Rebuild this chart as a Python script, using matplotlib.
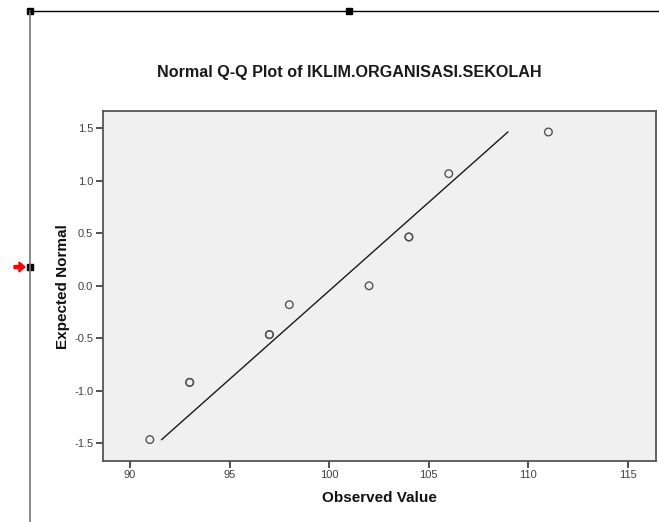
import matplotlib
matplotlib.use("Agg")
import matplotlib.pyplot as plt
from matplotlib.lines import Line2D
from matplotlib.patches import Rectangle, FancyArrow
import numpy as np

# Data (duplicates listed twice)
observed = [91, 93, 93, 97, 97, 98, 102, 104, 104, 106, 111]
expected = [-1.465, -0.92, -0.92, -0.465, -0.465, -0.18, 0.0, 0.465, 0.465, 1.068, 1.465]
line_mean = 100.28
line_sd = 5.93
xticks = [90, 95, 100, 105, 110, 115]
yticks = [-1.5, -1.0, -0.5, 0.0, 0.5, 1.0, 1.5]
title = "Normal Q-Q Plot of IKLIM.ORGANISASI.SEKOLAH"
xlabel = "Observed Value"
ylabel = "Expected Normal"

W, H = 659, 522
fig = plt.figure(figsize=(W / 100, H / 100), dpi=100)
fig.patch.set_facecolor("white")

def fx(px):
    return px / W

def fy(py):
    return 1 - py / H

ax = fig.add_axes([fx(103), fy(460.7), fx(656) - fx(103), fy(111) - fy(460.7)])
ax.set_facecolor("#f0f0f0")
ax.set_xlim(88.65, 116.4)
ax.set_ylim(-1.666, 1.665)

# reference line
ys = np.array([min(expected), max(expected)])
xs = line_mean + line_sd * ys
ax.plot(xs, ys, color="#1a1a1a", lw=1.0)

ax.scatter(observed, expected, s=30, facecolors="none", edgecolors="#555555", linewidths=1.0, zorder=3)

for s in ax.spines.values():
    s.set_color("#555555")
    s.set_linewidth(1.3)

ax.set_xticks(xticks)
ax.set_xticklabels([str(t) for t in xticks])
ax.set_yticks(yticks)
ax.set_yticklabels([f"{t:.1f}" for t in yticks])
ax.tick_params(axis="both", direction="out", length=5, width=1.2, color="#333333",
               labelsize=8, labelcolor="#404040", pad=2)
for lab in ax.get_xticklabels() + ax.get_yticklabels():
    lab.set_family("Liberation Sans")

fig.text(fx(349), fy(72), title, ha="center", va="center", fontsize=11.6,
         family="Liberation Sans", fontweight="bold", color="#1a1a1a")
fig.text(fx(379.5), fy(498), xlabel, ha="center", va="center", fontsize=11,
         family="Liberation Sans", fontweight="bold", color="#111111")
fig.text(fx(63), fy(287), ylabel, ha="center", va="center", rotation=90, fontsize=11,
         family="Liberation Sans", fontweight="bold", color="#111111")

# screenshot frame artifacts
fig.add_artist(Line2D([fx(30), fx(30)], [fy(11), fy(522)], color="#777777", lw=1.2))
fig.add_artist(Line2D([fx(30), fx(659)], [fy(11), fy(11)], color="black", lw=1.0))
for (px, py) in [(30, 11), (349, 11), (30, 267)]:
    fig.add_artist(Rectangle((fx(px - 3), fy(py + 3)), 6 / W, 6 / H, color="black",
                             transform=fig.transFigure))
fig.add_artist(FancyArrow(fx(14), fy(267), fx(11), 0, width=3 / H, head_width=10 / H,
                          head_length=6 / W, length_includes_head=True, color="red",
                          transform=fig.transFigure))

fig.savefig("out.png", dpi=100)
